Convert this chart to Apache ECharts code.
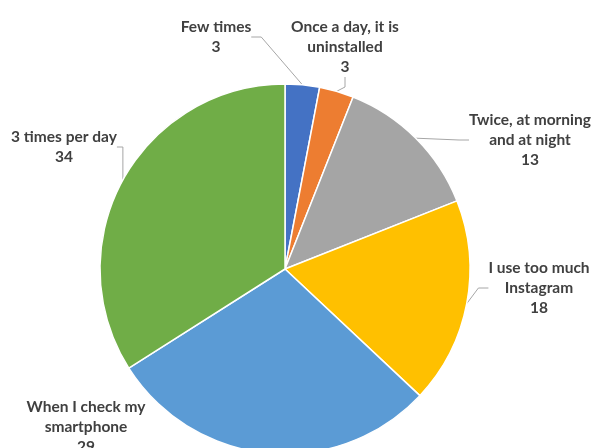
<!DOCTYPE html>
<html>
<head>
<meta charset="utf-8">
<script src="https://cdn.jsdelivr.net/npm/echarts@6/dist/echarts.min.js"></script>
<style>html,body{margin:0;padding:0;background:#fff;}#c{width:595px;height:448px;}</style>
</head>
<body>
<div id="c"></div>
<script>
const categories = ["Few times", "Once a day, it is\nuninstalled", "Twice, at morning\nand at night", "I use too much\nInstagram", "When I check my\nsmartphone", "3 times per day"];
const values = [3, 3, 13, 18, 29, 34];
const colors = ["#4472C4", "#ED7D31", "#A5A5A5", "#FFC000", "#5B9BD5", "#70AD47"];
const labelPos = [[216, 37], [345, 47], [530, 140], [539, 288], [86, 427], [64, 147]];

const chart = echarts.init(document.getElementById('c'));
chart.setOption({
  animation: false,
  series: [{
    type: 'pie',
    center: [285, 269],
    radius: 185,
    startAngle: 90,
    clockwise: true,
    data: categories.map((c, i) => ({
      name: c, value: values[i], itemStyle: { color: colors[i] },
      labelLine: { show: i !== 4 }
    })),
    itemStyle: { borderColor: '#fff', borderWidth: 1.5 },
    label: {
      show: true,
      formatter: '{b}\n{c}',
      fontFamily: 'Lato',
      fontWeight: 'bold',
      fontSize: 15.5,
      lineHeight: 20,
      color: '#404040',
      align: 'center',
      overflow: 'none',
      edgeDistance: 0,
      bleedMargin: 0
    },
    labelLine: { show: true, length: 10, length2: 10, lineStyle: { color: '#A6A6A6', width: 1 } },
    labelLayout: function (p) {
      const pos = labelPos[p.dataIndex];
      return { x: pos[0], y: pos[1], align: 'center', verticalAlign: 'middle' };
    }
  }]
});
</script>
</body>
</html>
